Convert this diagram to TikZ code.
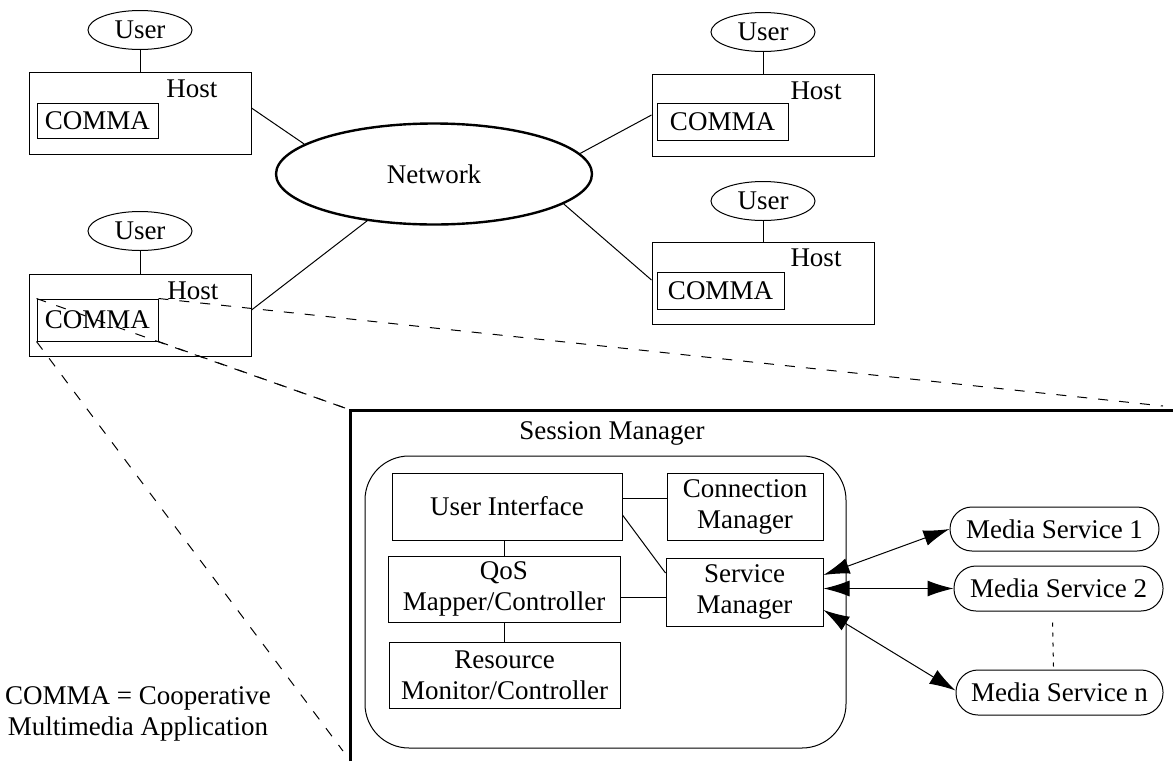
\documentclass[tikz,border=0pt]{standalone}
\usepackage{fontspec}
\setmainfont{Liberation Serif}
\usetikzlibrary{arrows.meta,shapes.geometric,calc}
\begin{document}
\begin{tikzpicture}[x=0.5pt,y=-0.5pt,
  every node/.style={inner sep=0pt,font=\fontsize{13.5pt}{15.5pt}\selectfont},
  box/.style={draw,line width=0.5pt,rectangle,align=center},
  usr/.style={draw,line width=0.5pt,ellipse,minimum width=52pt,minimum height=19.5pt},
  pill/.style={draw,line width=0.5pt,rounded corners=11pt,align=center},
  conn/.style={line width=0.5pt},
  zoomline/.style={line width=0.5pt,dash pattern=on 5pt off 5.5pt},
  dotline/.style={line width=0.5pt,dash pattern=on 2pt off 3pt},
  dbl/.style={line width=0.5pt,{Latex[length=13pt,width=8pt]}-{Latex[length=13pt,width=8pt]}}]
\useasboundingbox (0,0) rectangle (1173,761);
\fill[white] (0,0) rectangle (1173,761);

% Hosts
\node[box,minimum width=111pt,minimum height=41pt] (hostA) at (140,113) {};
\node[box,minimum width=111pt,minimum height=41pt] (hostB) at (140,315) {};
\node[box,minimum width=111pt,minimum height=41pt] (hostC) at (763,115) {};
\node[box,minimum width=111pt,minimum height=41pt] (hostD) at (763,283) {};
\node (hlA) at (192,89) {Host};
\node (hlB) at (193,291) {Host};
\node (hlC) at (816,91) {Host};
\node (hlD) at (816,258) {Host};
% COMMA boxes
\node[box,minimum width=60.5pt,minimum height=17.5pt] (commaA) at (97.5,120.5) {COMMA};
\node[box,minimum width=60.5pt,minimum height=21pt] (commaB) at (97.5,320) {COMMA};
\node[box,minimum width=65.5pt,minimum height=18.5pt] (commaC) at (722.5,121.5) {COMMA};
\node[box,minimum width=63.5pt,minimum height=18.5pt] (commaD) at (720.5,290.5) {COMMA};
% Users
\node[usr] (userA) at (140,30) {User};
\node[usr] (userB) at (140,231) {User};
\node[usr] (userC) at (763,32) {User};
\node[usr] (userD) at (763,201) {User};
\foreach \u in {A,B,C,D} \draw[conn] (user\u.south) -- (host\u.north);

% Network
\node[draw,ellipse,line width=1.2pt,minimum width=158pt,minimum height=50.5pt] (net) at (434,174) {Network};
\draw[conn] ([yshift=2.5pt]hostA.east) -- (net.167.7);
\draw[conn] ([yshift=2.5pt]hostB.east) -- (net.215.5);
\draw[conn] (hostC.west) -- (net.8.1);
\draw[conn] ([yshift=1.5pt]hostD.west) -- (net.-13.6);

% Zoomed region frame
\coordinate (bigTL) at (350,410);
\coordinate (bigTR) at (1173,410);
\coordinate (bigBL) at (350,761);
\coordinate (zTR) at (1163,406);
\coordinate (zTL) at (345,408);
\coordinate (zBL) at (343,751);
\draw[line width=1.5pt] (bigBL) -- (bigTL) -- (bigTR);
\draw[zoomline] (commaB.north east) -- (zTR);
\draw[zoomline] (commaB.north west) -- (zTL);
\draw[zoomline] (commaB.south east) -- (zTL);
\draw[zoomline] (commaB.south west) -- (zBL);

\node (smtitle) at (612,433) {Session Manager};
\node[draw,line width=0.5pt,rounded corners=22pt,minimum width=240.5pt,minimum height=146pt] (sm) at (605.5,602) {};

\node[box,minimum width=115pt,minimum height=33.5pt] (ui) at (507,506.5) {User Interface};
\node[box,minimum width=78pt,minimum height=33.5pt] (cm) at (745,506.5) {Connection\\Manager};
\node[box,minimum width=116pt,minimum height=33pt] (qos) at (504,589) {QoS\\Mapper/Controller};
\node[box,minimum width=115.5pt,minimum height=33pt] (rm) at (504.5,675) {Resource\\Monitor/Controller};
\node[box,minimum width=78.5pt,minimum height=34pt] (svm) at (744.5,592) {Service\\Manager};

\draw[conn] ([yshift=4.25pt]ui.east) -- ([yshift=4.25pt]ui.east -| cm.west);
\draw[conn] ([yshift=-4.25pt]ui.east) -- ([yshift=9.5pt]svm.west);
\draw[conn] (qos.north) -- (qos.north |- ui.south);
\draw[conn] ([yshift=-4pt]qos.east) -- ([yshift=-4pt]qos.east -| svm.west);
\draw[conn] (rm.north) -- (rm.north |- qos.south);

% Media services
\node[pill,minimum width=104.5pt,minimum height=22pt] (ms1) at (1054.5,529) {Media Service 1};
\node[pill,minimum width=104.5pt,minimum height=22.5pt] (ms2) at (1058.5,588.5) {Media Service 2};
\node[pill,minimum width=103.5pt,minimum height=22.5pt] (msn) at (1059.5,692.5) {Media Service n};
\draw[dbl] ([yshift=8.5pt]svm.east) -- (ms1.west);
\draw[dbl] (ms2.west -| svm.east) -- (ms2.west);
\draw[dbl] ([yshift=-9pt]svm.east) -- ([yshift=1pt]msn.west);
\draw[dotline] ([xshift=-3pt,yshift=-5.5pt]ms2.south) -- ([xshift=-3pt,yshift=1.5pt]msn.north);

% Legend
\node[align=center] (legend) at (138,714) {COMMA = Cooperative\\Multimedia Application};
\end{tikzpicture}
\end{document}
